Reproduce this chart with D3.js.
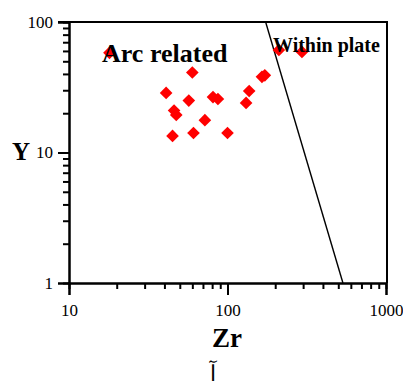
<!DOCTYPE html>
<html>
<head>
<meta charset="utf-8">
<script src="https://cdn.jsdelivr.net/npm/d3@7"></script>
<style>
  body { margin: 0; background: #fff; }
  svg { display: block; }
  text { font-family: "Liberation Serif", "Times New Roman", serif; fill: #000; }
</style>
</head>
<body>
<svg id="chart" width="403" height="390"></svg>
<script>
// sample values (ppm)
var zr = [18, 60, 41, 57, 46, 47.5, 45, 61, 72, 81, 87, 100, 131, 137, 165, 172, 211, 295];
var yv = [58, 41, 28.6, 25, 21, 19.4, 13.4, 14.1, 17.7, 26.6, 25.7, 14.1, 24, 29.6, 38, 39, 61, 59];

// discrimination line between arc and within plate fields
var lineZr = [174, 535];
var lineY = [100, 1];

var xMajor = [10, 100, 1000];
var yMajor = [1, 10, 100];
var minorSteps = [2, 3, 4, 5, 6, 7, 8, 9];

var svg, x, y, xMinor, yMinor, margin;

margin = {left: 69, top: 22, right: 386, bottom: 283};

svg = d3.select('#chart');

x = d3.scaleLog().domain([10, 1000]).range([margin.left, margin.right]);
y = d3.scaleLog().domain([1, 100]).range([margin.bottom, margin.top]);

xMinor = [];
yMinor = [];
[1, 10].forEach(function (d) {
  minorSteps.forEach(function (s) {
    xMinor.push(d * 10 * s);
    yMinor.push(d * s);
  });
});

// frame (top and right edges)
svg.append('path')
  .attr('d', 'M' + 58 + ',' + margin.top + 'H' + (margin.right + 1) +
    'V' + margin.bottom)
  .attr('fill', 'none')
  .attr('stroke', '#000')
  .attr('stroke-width', 2);

function styleAxis(g) {
  g.select('.domain').attr('stroke-width', 2);
  g.selectAll('.tick line').attr('stroke-width', 2);
  g.selectAll('.tick text')
    .style('font-family', '"Liberation Serif", serif')
    .style('font-size', '17px')
    .attr('fill', '#222');
}

// minor ticks
svg.append('g')
  .attr('transform', 'translate(0,' + margin.bottom + ')')
  .call(d3.axisBottom(x).tickValues(xMinor).tickSize(6).tickFormat(''))
  .call(styleAxis);
svg.append('g')
  .attr('transform', 'translate(' + margin.left + ',0)')
  .call(d3.axisLeft(y).tickValues(yMinor).tickSize(6).tickFormat(''))
  .call(styleAxis);

// major ticks with labels
svg.append('g')
  .attr('transform', 'translate(0,' + margin.bottom + ')')
  .call(d3.axisBottom(x).tickValues(xMajor).tickSize(12).tickPadding(9)
    .tickFormat(d3.format('d')))
  .call(styleAxis);
svg.append('g')
  .attr('transform', 'translate(' + margin.left + ',0)')
  .call(d3.axisLeft(y).tickValues(yMajor).tickSize(11).tickPadding(5)
    .tickFormat(d3.format('d')))
  .call(styleAxis);

// boundary line
svg.append('line')
  .attr('x1', x(lineZr[0]))
  .attr('y1', y(lineY[0]))
  .attr('x2', x(lineZr[1]))
  .attr('y2', y(lineY[1]))
  .attr('stroke', '#000')
  .attr('stroke-width', 1.4);

// red diamonds
svg.append('g')
  .selectAll('path')
  .data(zr)
  .enter()
  .append('path')
  .attr('d', d3.symbol().type(d3.symbolSquare).size(80))
  .attr('transform', function (d, i) {
    return 'translate(' + x(d) + ',' + y(yv[i]) + ') rotate(45)';
  })
  .attr('fill', '#ff0000');

// field labels
svg.append('text')
  .attr('x', 102)
  .attr('y', 62)
  .style('font-size', '26px')
  .style('font-weight', 'bold')
  .text('Arc related');

svg.append('text')
  .attr('x', 273)
  .attr('y', 52)
  .style('font-size', '20px')
  .style('font-weight', 'bold')
  .text('Within plate');

// axis titles
svg.append('text')
  .attr('x', 12)
  .attr('y', 160)
  .style('font-size', '25px')
  .style('font-weight', 'bold')
  .text('Y');

svg.append('text')
  .attr('x', 212)
  .attr('y', 347)
  .style('font-size', '27px')
  .style('font-weight', 'bold')
  .text('Zr');

svg.append('text')
  .attr('x', 210)
  .attr('y', 381)
  .style('font-size', '22px')
  .text('آ');
</script>
</body>
</html>
